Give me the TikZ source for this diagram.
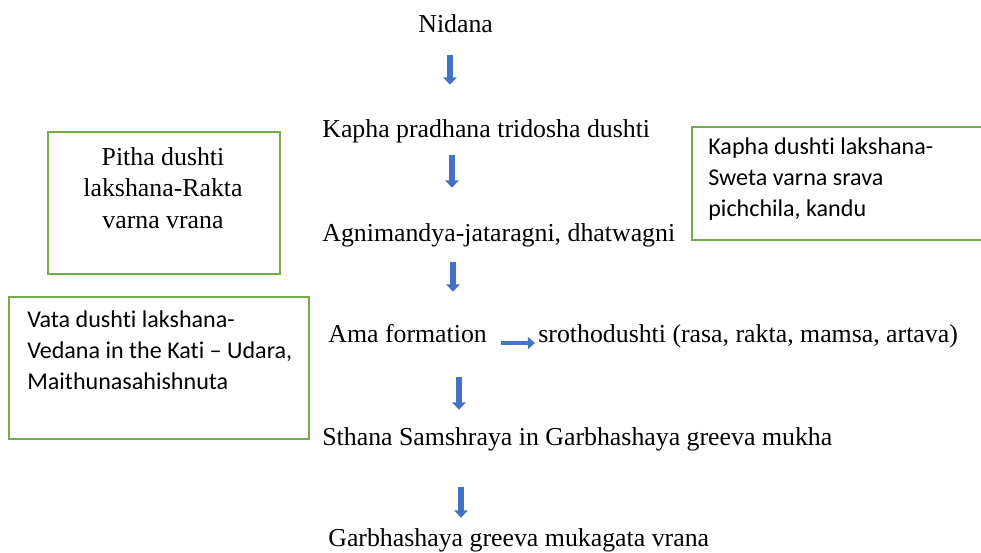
\documentclass[tikz,border=0pt]{standalone}
\usepackage{fontspec}
\setmainfont{Liberation Serif}
\newfontfamily\calibri[Ligatures=NoCommon]{Carlito}
\definecolor{arrowblue}{RGB}{68,114,196}
\definecolor{boxgreen}{RGB}{112,173,71}
\usetikzlibrary{arrows.meta}
\begin{document}
\begin{tikzpicture}[x=0.02cm,y=-0.02cm,
  flow/.style={anchor=base west,inner sep=0pt,text height=10.2pt,text depth=3.4pt,
    font=\fontsize{14.7}{17.9}\selectfont},
  down/.style={draw=arrowblue,line width=3.6pt,-{Triangle[width=7.6pt,length=4.2pt]}},
  side/.style={draw=arrowblue,line width=2.8pt,-{Triangle[width=6.8pt,length=4pt]}},
  box/.style={draw=boxgreen,line width=1.1pt,anchor=north west,inner sep=0pt},
  boxtext/.style={inner sep=0pt,font=\calibri\fontsize{13.7}{17.8}\selectfont,
    anchor=north west,align=left}]
\clip (0,0) rectangle (981,553);
% main chain
\node[flow] (nidana) at (418,33) {Nidana};
\node[flow] (kapha) at (322,138) {Kapha pradhana tridosha dushti};
\node[flow] (agni) at (322,242) {Agnimandya-jataragni, dhatwagni};
\node[flow] (ama) at (328,343) {Ama formation};
\node[flow] (sroth) at (538,343) {srothodushti (rasa, rakta, mamsa, artava)};
\node[flow] (sthana) at (322,446) {Sthana Samshraya in Garbhashaya greeva mukha};
\node[flow] (vrana) at (328,547) {Garbhashaya greeva mukagata vrana};
\draw[down,shorten <=0.32cm,shorten >=0.70cm] (nidana.south -| 450,0) -- (kapha.north -| 450,0);
\draw[down,shorten <=0.22cm,shorten >=0.72cm] (kapha.south -| 452,0) -- (agni.north -| 452,0);
\draw[down,shorten <=0.28cm,shorten >=0.66cm] (agni.south -| 453,0) -- (ama.north -| 453,0);
\draw[down,shorten <=0.56cm,shorten >=0.36cm] (ama.south -| 459,0) -- (sthana.north -| 459,0);
\draw[down,shorten <=0.70cm,shorten >=0.22cm] (sthana.south -| 461,0) -- (vrana.north -| 461,0);
\draw[side,shorten <=0.28cm,shorten >=0.06cm] ([yshift=-0.12cm]ama.east) -- ([yshift=-0.12cm]sroth.west);
% dosha boxes
\node[box,minimum width=4.64cm,minimum height=2.84cm] (pithabox) at (47,131) {};
\node[inner sep=0pt,anchor=north,align=center,font=\fontsize{14.7}{17.9}\selectfont]
  (pitha) at (163,147) {Pitha dushti\\lakshana-Rakta\\varna vrana};
\node[box,minimum width=6.2cm,minimum height=2.26cm] (kaphabox) at (691,126) {};
\node[boxtext] (kaphatext) at (708,137) {Kapha dushti lakshana-\\Sweta varna srava\\pichchila, kandu};
\node[box,minimum width=6cm,minimum height=2.84cm] (vatabox) at (8,296) {};
\node[boxtext] (vatatext) at (27,310) {Vata dushti lakshana-\\Vedana in the Kati – Udara,\\Maithunasahishnuta};
\end{tikzpicture}
\end{document}
